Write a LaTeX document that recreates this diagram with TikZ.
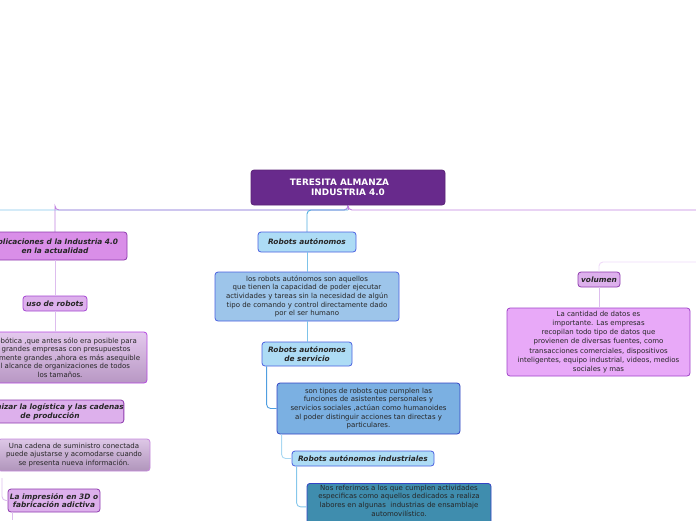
\documentclass[tikz,border=0pt]{standalone}
\usepackage{fontspec}
\setmainfont{DejaVu Sans}
\usetikzlibrary{calc}
\definecolor{rootfill}{HTML}{682A8C}
\definecolor{rootline}{HTML}{5A2278}
\definecolor{lilafill}{HTML}{D98EE8}
\definecolor{lilaline}{HTML}{8E3BAE}
\definecolor{palefill}{HTML}{DDB0EC}
\definecolor{paleline}{HTML}{A445D2}
\definecolor{notefill}{HTML}{D8B2E6}
\definecolor{noteline}{HTML}{B548E0}
\definecolor{fogfill}{HTML}{CFAFDC}
\definecolor{fogline}{HTML}{C689DC}
\definecolor{pinkfill}{HTML}{E8A9F8}
\definecolor{pinkline}{HTML}{A043C8}
\definecolor{skyfill}{HTML}{ADDCF5}
\definecolor{skyline}{HTML}{4A60E0}
\definecolor{midfill}{HTML}{9DC5EA}
\definecolor{deepfill}{HTML}{7BB0E2}
\definecolor{tealfill}{HTML}{3F8DAE}
\definecolor{tealline}{HTML}{3344C4}
\definecolor{violetlink}{HTML}{C283E0}
\definecolor{lavlink}{HTML}{DDBDEE}
\definecolor{ghostlink}{HTML}{EFDAF8}
\definecolor{bluelink}{HTML}{52AEE0}
\definecolor{icelink}{HTML}{A9D8F2}
\begin{document}
\begin{tikzpicture}[x=1pt,y=-1pt]
    \tikzstyle{every node}+=[inner sep=0pt, align=center, text=black!85]
    \tikzstyle{box}=[draw, rounded corners=3pt, line width=0.8pt]
    \tikzstyle{head}=[box, font=\fontsize{7.4}{8.8}\selectfont\bfseries\itshape]
    \tikzstyle{note}=[box, font=\fontsize{7}{8.6}\selectfont]
    \tikzstyle{link}=[line width=0.9pt, rounded corners=4pt]
    \useasboundingbox (0,0) rectangle (696,520);
    \clip (0,0) rectangle (696,520);
    % free ends of links that leave the page
    \coordinate (offleft) at (0,210);
    \coordinate (offright) at (696,210);
    \coordinate (offvol) at (696,262);
    \coordinate (offimp) at (2,478);
    \coordinate (downimp) at (12,520);
    % links
    \draw [link, icelink!60!bluelink] (348,205) |- (offleft);
    \draw [link, violetlink] (348,205) |- (offright);
    \draw [link, violetlink] (348,205) |- ($(55,232)+(0,-22)$) -| (55,232);
    \draw [link, bluelink] (348,210) -| (307,232);
    % nodes
    \node [box, fill=rootfill, draw=rootline, text=white, minimum width=194pt, minimum height=35pt,
        font=\fontsize{8.9}{10.4}\selectfont\bfseries] (root) at (348,187.5) {TERESITA ALMANZA\hspace*{17pt}\\INDUSTRIA 4.0};
    \node [head, fill=lilafill, draw=lilaline, minimum width=144pt, minimum height=28pt] (apl) at (55,246)
        {Aplicaciones d la Industria 4.0\\en la actualidad};
    \node [head, fill=palefill, draw=paleline, minimum width=64pt, minimum height=15pt] (uso) at (55,303.5) {uso de robots};
    \node [note, top color=notefill!70!white, bottom color=notefill!85!black, draw=noteline,
        minimum width=174pt, minimum height=51pt] (robotica) at (60,357.5)
        {La robótica ,que antes sólo era posible para\\las grandes empresas con presupuestos\\sumamente grandes ,ahora es más asequible\\y al alcance de organizaciones de todos\\los tamaños.};
    \node [head, fill=palefill, draw=lilaline, minimum width=146pt, minimum height=23pt] (opt) at (50,411.5)
        {Optimizar la logística y las cadenas\\de producción};
    \node [note, top color=fogfill!70!white, bottom color=fogfill!85!black, draw=fogline,
        minimum width=152pt, minimum height=32pt] (cadena) at (74,455)
        {Una cadena de suministro conectada\\puede ajustarse y acomodarse cuando\\se presenta nueva información.};
    \node [head, fill=palefill, draw=lilaline, minimum width=92pt, minimum height=23pt] (imp) at (54,500.5)
        {La impresión en 3D o\\fabricación adictiva};
    \node [head, fill=skyfill, draw=skyline, minimum width=98pt, minimum height=20pt] (ra) at (307,242) {Robots autónomos};
    \node [note, fill=midfill, draw=skyline, minimum width=184pt, minimum height=49pt] (radef) at (307,296.5)
        {los robots autónomos son aquellos\\que tienen la capacidad de poder ejecutar\\actividades y tareas sin la necesidad de algún\\tipo de comando y control directamente dado\\por el ser humano};
    \node [head, fill=skyfill, draw=skyline, minimum width=90pt, minimum height=24pt] (ras) at (307,354)
        {Robots autónomos\\de servicio};
    \node [note, fill=deepfill, draw=tealline, minimum width=183pt, minimum height=51pt] (rasdef) at (368.5,408.5)
        {son tipos de robots que cumplen las\\funciones de asistentes personales y\\servicios sociales ,actúan como humanoides\\al poder distinguir acciones tan directas y\\particulares.};
    \node [head, fill=skyfill, draw=skyline, minimum width=142pt, minimum height=15pt] (rai) at (363,458.5)
        {Robots autónomos industriales};
    \node [note, fill=tealfill, draw=tealline, minimum width=184pt, minimum height=47pt, anchor=north] (raidef) at (399,483)
        {Nos referimos a los que cumplen actividades\\especificas como aquellos dedicados a realiza\\labores en algunas \ industrias de ensamblaje\\automovilístico.\\[4pt]};
    \node [head, fill=palefill, draw=lilaline, minimum width=42pt, minimum height=15pt] (vol) at (599,279.5) {volumen};
    \node [note, fill=pinkfill, draw=pinkline, minimum width=183pt, minimum height=68pt,
        font=\fontsize{7}{9.2}\selectfont] (voldef) at (598.5,342)
        {La cantidad de datos es\\importante. Las empresas\\recopilan todo tipo de datos que\\provienen de diversas fuentes, como\\transacciones comerciales, dispositivos\\inteligentes, equipo industrial, videos, medios\\sociales y mas};
    % links between nodes
    \draw [link, violetlink] (root.south) -- ++(0,5);
    \draw [link, lavlink] (apl.south) -- (uso.north);
    \draw [link, lavlink] (uso.south) -- (robotica.north -| uso.south);
    \draw [link, lavlink] (offimp) |- (imp.west);
    \draw [link, lavlink] (imp.south -| downimp) -- (downimp);
    \draw [link, ghostlink] (offvol) -| (vol.north);
    \draw [link, lavlink] (vol.south) -- (voldef.north -| vol.south);
    \draw [link, icelink!50!bluelink] (ra.south) -- (radef.north);
    \draw [link, icelink!50!bluelink] (radef.south) -- (ras.north);
    \draw [link, bluelink!80!skyline] (ras.south west) ++(5,0) |- (rasdef.west);
    \draw [link, icelink] (rasdef.south west) ++(5,0) |- (rai.west);
    \draw [link, icelink!60!bluelink] (rai.south west) ++(5,0) |- (raidef.west);
\end{tikzpicture}
\end{document}
